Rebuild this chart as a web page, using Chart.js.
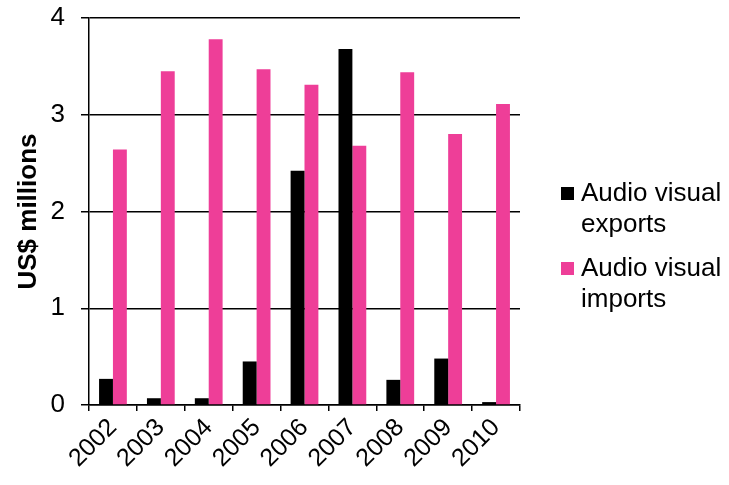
<!DOCTYPE html>
<html lang="en">
<head>
  <title>Audio visual trade</title>
  <style>
    body {
      margin: 0;
      background: #fff;
    }
    #chart-container {
      width: 729px;
      height: 485px;
    }
  </style>
  <script src="https://cdn.jsdelivr.net/npm/chart.js"></script>
</head>
<body>
<div id="chart-container">
  <canvas id="barChart" width="729" height="485"></canvas>
</div>
<script>
// Dati
var years = ['2002', '2003', '2004', '2005', '2006', '2007', '2008', '2009', '2010'];
var exportsValues = [0.27, 0.07, 0.07, 0.45, 2.42, 3.68, 0.26, 0.48, 0.03];
var importsValues = [2.64, 3.45, 3.78, 3.47, 3.31, 2.68, 3.44, 2.80, 3.11];
var yTicks = [0, 1, 2, 3, 4];
var seriesLabels = [['Audio visual', 'exports'], ['Audio visual', 'imports']];
var seriesColors = ['#000000', '#EE3E98'];

var FONT = "'Liberation Sans', Arial, sans-serif";

// Legenda su due righe disegnata a mano
var sideLegend = {
  id: 'sideLegend',
  afterDraw: function(chart) {
    var ctx = chart.ctx;
    var x0 = 561;
    var tops = [194, 269];
    ctx.save();
    ctx.font = '26px ' + FONT;
    ctx.textBaseline = 'middle';
    ctx.textAlign = 'left';
    chart.data.datasets.forEach(function(ds, i) {
      ctx.fillStyle = ds.backgroundColor;
      ctx.fillRect(x0, tops[i] - 7, 13, 13);
      ctx.fillStyle = '#000';
      ds.legendLines.forEach(function(line, j) {
        ctx.fillText(line, x0 + 20, tops[i] + j * 31);
      });
    });
    ctx.restore();
  }
};

var ctx = document.getElementById('barChart').getContext('2d');
var barChart = new Chart(ctx, {
  type: 'bar',
  data: {
    labels: years,
    datasets: [{
      label: 'Audio visual exports',
      legendLines: seriesLabels[0],
      data: exportsValues,
      backgroundColor: seriesColors[0],
      categoryPercentage: 0.58,
      barPercentage: 1.0
    }, {
      label: 'Audio visual imports',
      legendLines: seriesLabels[1],
      data: importsValues,
      backgroundColor: seriesColors[1],
      categoryPercentage: 0.58,
      barPercentage: 1.0
    }]
  },
  options: {
    responsive: false,
    animation: false,
    layout: {
      padding: { top: 0, right: 209, left: 13, bottom: 0 }
    },
    plugins: {
      legend: { display: false },
      tooltip: { enabled: false }
    },
    scales: {
      x: {
        // le etichette ruotate non devono spostare l'area del grafico
        afterFit: function(axis) {
          axis.height = 80;
          axis.paddingLeft = 0;
          axis.paddingRight = 0;
        },
        grid: {
          drawOnChartArea: false,
          drawTicks: true,
          tickLength: 6,
          color: '#000',
          lineWidth: 1.5
        },
        border: { color: '#000', width: 1.5 },
        ticks: {
          color: '#000',
          font: { family: FONT, size: 25 },
          maxRotation: 45,
          minRotation: 45,
          padding: 2
        }
      },
      y: {
        min: 0,
        max: 4,
        afterBuildTicks: function(axis) {
          axis.ticks = yTicks.map(function(v) { return { value: v }; });
        },
        afterFit: function(axis) {
          axis.width = 76;
          axis.paddingTop = 18;
          axis.paddingBottom = 0;
        },
        grid: {
          color: '#000',
          lineWidth: 1.5,
          tickLength: 8
        },
        border: { color: '#000', width: 1.5 },
        ticks: {
          color: '#000',
          font: { family: FONT, size: 26 },
          padding: 16
        },
        title: {
          display: true,
          text: 'US$ millions',
          color: '#000',
          font: { family: FONT, size: 26, weight: 'bold' },
          padding: { top: 0, bottom: 6 }
        }
      }
    }
  },
  plugins: [sideLegend]
});
</script>
</body>
</html>
